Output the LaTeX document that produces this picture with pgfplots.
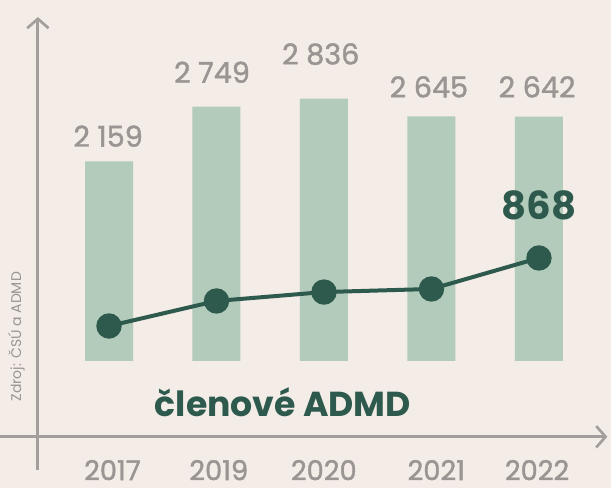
\documentclass[border=0pt]{standalone}
\usepackage{fontspec}
\setmainfont{Poppins}
\newfontfamily\medium{Poppins}[FakeBold=1.3]
\usepackage{pgfplots}
\pgfplotsset{compat=1.18}
\usetikzlibrary{arrows.meta}

\definecolor{bgc}{HTML}{F3ECE7}
\definecolor{barc}{HTML}{B3CBBB}
\definecolor{darkg}{HTML}{2D5A4D}
\definecolor{txtgray}{HTML}{9A9492}
\definecolor{axgray}{HTML}{A39E9C}

% 1 px of the reference = 0.75pt
\pgfplotsset{
  base/.style={
    scale only axis, width=458.25pt, height=366pt,
    xmin=-1.014, xmax=4.670,
    axis lines=none, ticks=none, clip=false,
  },
}

\begin{document}
\begin{tikzpicture}
\begin{axis}[base, name=main,
  ymin=-1373, ymax=3903,
  axis background/.style={fill=bgc},
]
\addplot[ybar, bar width=36pt, bar shift=0pt, fill=barc, draw=none]
  coordinates {(0,2159) (1,2749) (2,2836) (3,2645) (4,2642)};

% axes with arrows
\draw[axgray, line width=2.2pt, -{Straight Barb[length=7pt, width=16pt, line width=2pt]}]
  (rel axis cs:0.062,0.037) -- (rel axis cs:0.062,0.965);
\draw[axgray, line width=2.2pt, -{Straight Barb[length=7pt, width=16pt, line width=2pt]}]
  (rel axis cs:0,0.105) -- (rel axis cs:0.994,0.105);

% value labels
\begin{scope}[every node/.style={text=txtgray, font=\medium\fontsize{21.5}{24}\selectfont}]
\node at (rel axis cs:0.177,0.721) {2~159};
\node at (rel axis cs:0.347,0.852) {2~749};
\node at (rel axis cs:0.525,0.889) {2~836};
\node at (rel axis cs:0.702,0.822) {2~645};
\node at (rel axis cs:0.879,0.822) {2~642};
\end{scope}
\begin{scope}[every node/.style={text=txtgray, anchor=base, inner sep=0pt,
    font=\medium\fontsize{20.5}{24}\selectfont}]
\node at (rel axis cs:0.184,0.016) {2017};
\node at (rel axis cs:0.358,0.016) {2019};
\node at (rel axis cs:0.530,0.016) {2020};
\node at (rel axis cs:0.714,0.016) {2021};
\node at (rel axis cs:0.879,0.016) {2022};
\end{scope}

\node[text=darkg, font=\fontsize{29}{32}\selectfont\bfseries]
  at (rel axis cs:0.882,0.580) {868};
\node[text=darkg, font=\fontsize{26}{30}\selectfont\bfseries]
  at (rel axis cs:0.463,0.176) {členové ADMD};
\node[text=txtgray, rotate=90, font=\fontsize{10.5}{12}\selectfont]
  at (rel axis cs:0.027,0.310) {Zdroj: ČSÚ a ADMD};
\end{axis}

% members of ADMD (own scale)
\begin{axis}[base, ymin=-1070, ymax=3042]
\addplot[darkg, line width=3pt, mark=*, mark size=8pt,
  mark options={fill=darkg, draw=darkg}]
  coordinates {(0,295) (1,506) (2,581) (3,607) (4,868)};
\end{axis}

\pgfresetboundingbox
\path[use as bounding box] (main.south west) rectangle (main.north east);
\end{tikzpicture}
\end{document}
